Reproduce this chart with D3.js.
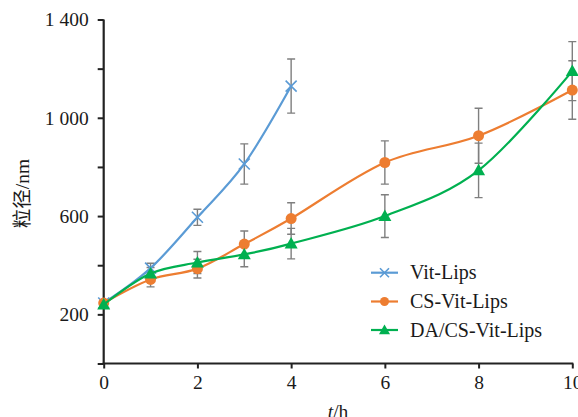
<!DOCTYPE html>
<html><head><meta charset="utf-8">
<script src="https://cdn.jsdelivr.net/npm/d3@7"></script>
<style>
html,body{margin:0;padding:0;background:#fff;}
svg{display:block;}
text{font-family:"Liberation Serif","Times New Roman","Noto Sans CJK SC",serif;fill:#1a1a1a;}
</style></head>
<body>
<svg id="chart" width="578" height="417"></svg>
<script>
// ---- data ----
const seriesNames = ["Vit-Lips", "CS-Vit-Lips", "DA/CS-Vit-Lips"];
const vitT   = [0, 1, 2, 3, 4];
const vitY   = [246, 388, 595, 812, 1129];
const vitErr = [10, 20, 33, 82, 110];
const csT    = [0, 1, 2, 3, 4, 6, 8, 10];
const csY    = [246, 342, 386, 486, 590, 818, 927, 1113];
const csErr  = [10, 30, 38, 53, 64, 88, 112, 119];
const daT    = [0, 1, 2, 3, 4, 6, 8, 10];
const daY    = [240, 366, 411, 444, 488, 600, 786, 1190];
const daErr  = [10, 25, 45, 50, 62, 87, 111, 120];
const xTicks = [0, 2, 4, 6, 8, 10];
const yTicks = [0, 200, 400, 600, 800, 1000, 1200, 1400];
const yTickLabels = {200: "200", 600: "600", 1000: "1 000", 1400: "1 400"};
const xTitle = "t";
const xUnit = "/h";
const yTitle = "粒径/nm";

// ---- build ----
const colors = ["#5B9BD5", "#ED7D31", "#00B050"];
const symbols = ["cross", "circle", "triangle"];
const series = [
  {name: seriesNames[0], t: vitT, y: vitY, e: vitErr},
  {name: seriesNames[1], t: csT, y: csY, e: csErr},
  {name: seriesNames[2], t: daT, y: daY, e: daErr}
].map((s, i) => ({...s, color: colors[i], sym: symbols[i],
  pts: s.t.map((t, j) => ({t, y: s.y[j], e: s.e[j]}))}));

const svg = d3.select("#chart");
const x = d3.scaleLinear().domain([0, 10]).range([103.7, 572.3]);
const y = d3.scaleLinear().domain([0, 1400]).range([363.5, 19.5]);

// axes
const gx = svg.append("g").attr("transform", `translate(0,${y(0)})`)
  .call(d3.axisBottom(x).tickValues(xTicks).tickSize(5).tickPadding(7).tickSizeOuter(0));
const gy = svg.append("g").attr("transform", `translate(${x(0)},0)`)
  .call(d3.axisLeft(y).tickValues(yTicks).tickSize(6).tickPadding(9).tickSizeOuter(0)
    .tickFormat(d => yTickLabels[d] || ""));
[gx, gy].forEach(g => {
  g.selectAll(".domain").attr("stroke", "#222").attr("stroke-width", 2.2);
  g.selectAll(".tick line").attr("stroke", "#222").attr("stroke-width", 2);
  g.selectAll(".tick text").attr("font-size", 19.5)
    .attr("font-family", "Liberation Serif, serif").attr("fill", "#1a1a1a");
});
gx.select(".domain").attr("d", `M${x(0) - 1},0H${x(10) + 1}`);
gy.select(".domain").attr("d", `M0,${y(0)}V${y(1400)}`);

// axis titles
const xt = svg.append("text").attr("x", (x(0) + x(10)) / 2).attr("y", 418)
  .attr("text-anchor", "middle").attr("font-size", 19.5);
xt.append("tspan").attr("font-style", "italic").text(xTitle);
xt.append("tspan").text(xUnit);
svg.append("text").attr("transform", `translate(29,${(y(0) + y(1400)) / 2 + 2}) rotate(-90)`)
  .attr("text-anchor", "middle").attr("font-size", 19.5).text(yTitle);

// curves
const line = d3.line().x(d => x(d.t)).y(d => y(d.y)).curve(d3.curveCardinal.tension(0));
const capW = 4;

function drawMarker(g, sym, cx, cy, color, size) {
  if (sym === "cross") {
    const r = size || 5.5;
    g.append("path").attr("d", `M${cx - r},${cy - r}L${cx + r},${cy + r}M${cx - r},${cy + r}L${cx + r},${cy - r}`)
      .attr("stroke", color).attr("stroke-width", 1.6).attr("fill", "none");
  } else if (sym === "circle") {
    g.append("circle").attr("cx", cx).attr("cy", cy).attr("r", size || 5.5).attr("fill", color);
  } else {
    const r = size || 6.5;
    g.append("path").attr("d", `M${cx},${cy - r}L${cx + r},${cy + r * 0.75}L${cx - r},${cy + r * 0.75}Z`)
      .attr("fill", color);
  }
}

// error bars
const eg = svg.append("g");
series.forEach(s => {
  s.pts.forEach(p => {
    const px = x(p.t), y1 = y(p.y + p.e), y2 = y(p.y - p.e);
    eg.append("path")
      .attr("d", `M${px},${y1}V${y2}M${px - capW},${y1}H${px + capW}M${px - capW},${y2}H${px + capW}`)
      .attr("stroke", "#7f7f7f").attr("stroke-width", 1.4).attr("fill", "none");
  });
});

series.forEach(s => {
  const g = svg.append("g");
  g.append("path").attr("d", line(s.pts)).attr("fill", "none")
    .attr("stroke", s.color).attr("stroke-width", 2.2);
  s.pts.forEach(p => drawMarker(g, s.sym, x(p.t), y(p.y), s.color));
});

// legend
const lg = svg.append("g");
const legY = [272.7, 301.5, 330];
series.forEach((s, i) => {
  const ly = legY[i];
  lg.append("line").attr("x1", 371).attr("x2", 398).attr("y1", ly).attr("y2", ly)
    .attr("stroke", s.color).attr("stroke-width", 2.2);
  drawMarker(lg, s.sym, 384.5, ly, s.color, s.sym === "triangle" ? 5.5 : 4.5);
  lg.append("text").attr("x", 410).attr("y", ly + 6.5).attr("font-size", 20).text(s.name);
});
</script>
</body></html>
